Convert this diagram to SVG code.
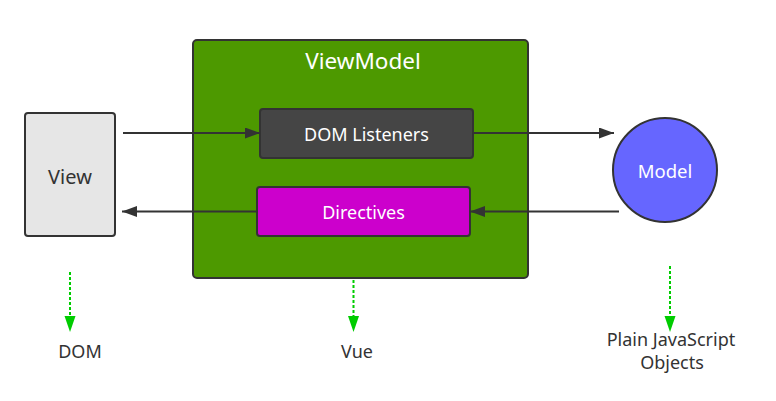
<svg xmlns="http://www.w3.org/2000/svg" width="776" height="401" viewBox="0 0 776 401">
<style>
text{font-family:"Noto Sans","Open Sans","Liberation Sans",sans-serif;text-anchor:middle}
.box{stroke:#333;stroke-width:2}
.conn{stroke:#333;stroke-width:2;fill:none}
.dash{stroke:#00CC00;stroke-width:2;stroke-dasharray:3 2;fill:none}
.w{fill:#fff}
.lbl{fill:#333;font-size:18px}
</style>
<defs>
<marker id="ah" markerWidth="15" markerHeight="11" refX="15" refY="5.5" orient="auto" markerUnits="userSpaceOnUse">
<path d="M0,0 L15,5.5 L0,11 Z" fill="#333"/>
</marker>
</defs>
<rect width="776" height="401" fill="#fff"/>
<g id="viewmodel">
<rect class="box" x="193" y="40" width="335" height="238" rx="4" fill="#4D9900"/>
<text class="w" x="363" y="69" font-size="22.5">ViewModel</text>
</g>
<g id="view">
<rect class="box" x="25" y="113" width="90" height="123" rx="3" fill="#E6E6E6"/>
<text x="70" y="184" font-size="20" fill="#333">View</text>
</g>
<g id="dom-listeners">
<rect class="box" x="260" y="109" width="213" height="49" rx="3" fill="#454545"/>
<text class="w" x="366.5" y="141" font-size="18">DOM Listeners</text>
</g>
<g id="directives">
<rect class="box" x="257" y="187" width="213" height="49" rx="3" fill="#CC00CC"/>
<text class="w" x="363.5" y="219" font-size="18">Directives</text>
</g>
<g id="model">
<circle class="box" cx="665" cy="170" r="52" fill="#6666FF"/>
<text class="w" x="665" y="178" font-size="18.5">Model</text>
</g>
<g id="dom-label"><text class="lbl" x="80" y="358">DOM</text></g>
<g id="vue-label"><text class="lbl" x="357" y="358">Vue</text></g>
<g id="pjo-label"><text class="lbl" x="671" y="346">Plain JavaScript</text><text class="lbl" x="672" y="369">Objects</text></g>
<g id="connectors">
<line class="conn" x1="123" y1="133" x2="260" y2="133" marker-end="url(#ah)"/>
<line class="conn" x1="473" y1="133" x2="614" y2="133" marker-end="url(#ah)"/>
<line class="conn" x1="619" y1="211.5" x2="470" y2="211.5" marker-end="url(#ah)"/>
<line class="conn" x1="257" y1="211.5" x2="122" y2="211.5" marker-end="url(#ah)"/>
<line class="dash" x1="70" y1="272" x2="70" y2="318"/>
<path d="M64.5,316 L75.5,316 L70,332 Z" fill="#00CC00"/>
<line class="dash" x1="353.5" y1="280" x2="353.5" y2="318"/>
<path d="M348,316 L359,316 L353.5,332 Z" fill="#00CC00"/>
<line class="dash" x1="670" y1="266" x2="670" y2="318"/>
<path d="M664.5,316 L675.5,316 L670,332 Z" fill="#00CC00"/>
</g>
</svg>
